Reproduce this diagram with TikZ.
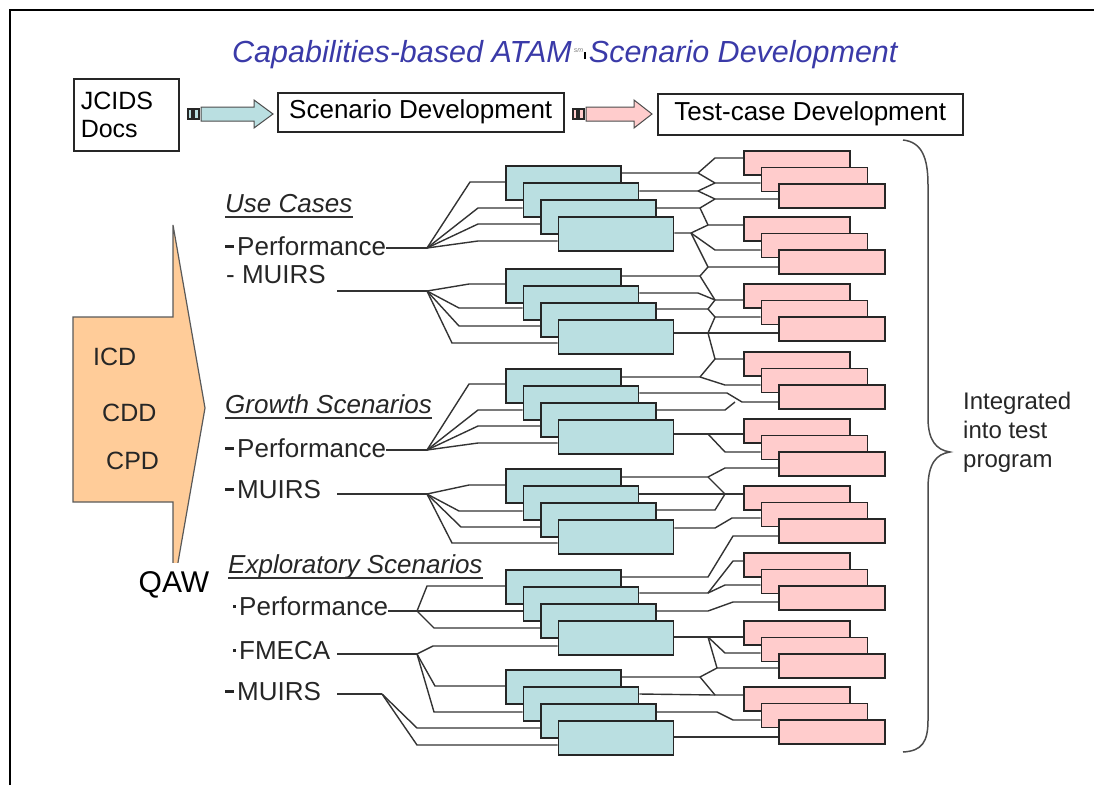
\documentclass[tikz,border=0pt]{standalone}
\usepackage{fontspec}
\setmainfont{Liberation Sans}
\usetikzlibrary{calc}
\pgfdeclarelayer{bg}
\pgfsetlayers{bg,main}
\definecolor{cyanfill}{RGB}{186,223,225}
\definecolor{pinkfill}{RGB}{255,204,204}
\definecolor{peach}{RGB}{255,204,153}
\definecolor{titleblue}{RGB}{58,58,168}
\definecolor{linegray}{RGB}{51,51,51}
\newcommand{\bdash}{\rule[7.5pt]{9pt}{2.6pt}\hspace{3pt}}
\newcommand{\bdot}{\rule[7pt]{3pt}{3pt}\hspace{3pt}}
\tikzset{
  bbox/.style={draw=black!85, line width=1.8pt, fill=cyanfill, minimum width=115pt, minimum height=34pt, inner sep=0pt, anchor=north west},
  pbox/.style={draw=black!85, line width=1.8pt, fill=pinkfill, minimum width=106pt, minimum height=24pt, inner sep=0pt, anchor=north west},
  conn/.style={draw=linegray, line width=1.4pt},
  lbl/.style={inner sep=0pt, anchor=base west, font=\fontsize{26}{30}\selectfont, text=black!85},
  tbox/.style={draw=black!85, line width=1.5pt, inner sep=0pt, anchor=north west, font=\fontsize{26}{30}\selectfont},
  ulin/.style={line width=1.3pt, draw=black!80},
  arrowtxt/.style={inner sep=0pt, anchor=base west, font=\fontsize{25}{28}\selectfont, text=black!85}
}
\begin{document}
\begin{tikzpicture}[x=1pt,y=-1pt]
\useasboundingbox (0,0) rectangle (1094,785);
% frame
\draw[line width=2.5pt] (10,785) -- (10,10) -- (1094,10);
% title
\node[anchor=base west, inner sep=0pt, text=titleblue, font=\fontsize{30.5}{32}\selectfont\itshape] (title) at (232,62)
  {Capabilities-based ATAM\hspace{2pt}\raisebox{10pt}{\fontsize{7}{7}\selectfont\color{gray}sm}\hspace{1pt}{\color{black}\rule[3pt]{1.8pt}{7pt}}\hspace{3pt}Scenario Development};
% top boxes
\node[draw=black!85, line width=1.5pt, anchor=north west, minimum width=105pt, minimum height=72pt, text width=91pt, inner xsep=7pt, inner ysep=0pt, align=left, font=\fontsize{25}{28}\selectfont] (jcids) at (73,78) {JCIDS\\Docs};
\node[tbox, minimum width=286pt, minimum height=39pt] (scen) at (277,92) {Scenario Development};
\node[tbox, minimum width=305pt, minimum height=41pt] (test) at (657,93) {Test-case Development};
% block arrows
\draw[fill=cyanfill, draw=black!85, line width=1.2pt] (188,109) rectangle (192,119);
\draw[fill=cyanfill, draw=black!85, line width=1.2pt] (194,109) rectangle (199,119);
\draw[fill=cyanfill, draw=black!70, line width=1pt] (201,107) -- (254,107) -- (254,100) -- (273,114) -- (254,128) -- (254,121) -- (201,121) -- cycle;
\draw[fill=pinkfill, draw=black!85, line width=1.2pt] (573,109) rectangle (577,119);
\draw[fill=pinkfill, draw=black!85, line width=1.2pt] (579,109) rectangle (584,119);
\draw[fill=pinkfill, draw=black!70, line width=1pt] (586,107) -- (634,107) -- (634,100) -- (652,114) -- (634,128) -- (634,121) -- (586,121) -- cycle;
% orange arrow
\draw[fill=peach, draw=black!65, line width=1.2pt] (73,317) -- (173,317) -- (173,225) -- (205,408) -- (173,591) -- (173,502) -- (73,502) -- cycle;
\node[arrowtxt] (icd) at (93,365) {ICD};
\node[arrowtxt] (cdd) at (102,421) {CDD};
\node[arrowtxt] (cpd) at (106,469) {CPD};
\node[fill=white, inner sep=0pt, minimum width=100pt, minimum height=44pt, font=\fontsize{30}{32}\selectfont] (qaw) at (174,585) {QAW};
% labels
\node[lbl] (lUC) at (225,212) {\itshape Use Cases};
\node[lbl] (lUCp) at (225,255) {\bdash Performance};
\node[lbl] (lUCm) at (226,283) {- MUIRS};
\node[lbl] (lGS) at (225,413) {\itshape Growth Scenarios};
\node[lbl] (lGSp) at (225,457) {\bdash Performance};
\node[lbl] (lGSm) at (225,498) {\bdash MUIRS};
\node[lbl] (lES) at (228,573) {\itshape Exploratory Scenarios};
\node[lbl] (lESp) at (233,615) {\bdot Performance};
\node[lbl] (lESf) at (233,659) {\bdot FMECA};
\node[lbl] (lESm) at (225,700) {\bdash MUIRS};
\draw[ulin] ([yshift=-5pt]lUC.base west) -- ([yshift=-5pt]lUC.base east);
\draw[ulin] ([yshift=-5pt]lGS.base west) -- ([yshift=-5pt]lGS.base east);
\draw[ulin] ([yshift=-5pt]lES.base west) -- ([yshift=-5pt]lES.base east);
% blue stacks
\foreach \k/\T in {1/165,2/268,3/368,4/468,5/569,6/669} {
  \foreach \i in {1,...,4} {
    \node[bbox] (b\k\i) at ({505+17.5*(\i-1)},{\T+17*(\i-1)}) {};
  }
}
% pink stacks
\foreach \j/\S in {1/150,2/216,3/283,4/351,5/418,6/485,7/552,8/620,9/686} {
  \foreach \a in {1,2,3} {
    \node[pbox] (p\j\a) at ({743+17.5*(\a-1)},{\S+16.5*(\a-1)}) {};
  }
}
% brace and text
\draw[line width=1.5pt, draw=black!70] (903,140) .. controls (922,142) and (928,158) .. (928,185) -- (928,418) .. controls (928,440) and (936,450) .. (950,452) .. controls (936,454) and (928,464) .. (928,488) -- (928,720) .. controls (928,742) and (922,751) .. (903,752);
\node[anchor=north west, align=left, inner sep=0pt, font=\fontsize{24}{29}\selectfont, text=black!85] (integ) at (963,392) {Integrated\\into test\\program};
% connectors
\begin{pgfonlayer}{bg}
\coordinate (f1) at (427,248);
\coordinate (m1) at (337,291);
\coordinate (f2) at (427,291);
\coordinate (f3) at (427,450);
\coordinate (m2) at (337,494);
\coordinate (f4) at (427,494);
\coordinate (f5) at (417,611);
\coordinate (m3) at (337,654);
\coordinate (f6) at (417,654);
\coordinate (m4) at (337,694);
\coordinate (f7) at (382,694);
% stack 1
\draw[conn] (lUCp.east |- f1) -- (f1);
\draw[conn] (f1) -- (470,182) -- (b11.west |- 0,182);
\draw[conn] (f1) -- (478,208) -- (b12.west |- 0,208);
\draw[conn] (f1) -- (478,224) -- (b13.west |- 0,224);
\draw[conn] (f1) -- (478,241) -- (b14.west |- 0,241);
% stack 2
\draw[conn] (m1) -- (f2);
\draw[conn] (f2) -- (469,284) -- (b21.west |- 0,284);
\draw[conn] (f2) -- (459,308) -- (b22.west |- 0,308);
\draw[conn] (f2) -- (459,326) -- (b23.west |- 0,326);
\draw[conn] (f2) -- (452,343) -- (b24.west |- 0,343);
% stack 3
\draw[conn] (lGSp.east |- f3) -- (f3);
\draw[conn] (f3) -- (469,384) -- (b31.west |- 0,384);
\draw[conn] (f3) -- (478,410) -- (b32.west |- 0,410);
\draw[conn] (f3) -- (478,426) -- (b33.west |- 0,426);
\draw[conn] (f3) -- (478,443) -- (b34.west |- 0,443);
% stack 4
\draw[conn] (m2) -- (f4);
\draw[conn] (f4) -- (469,485) -- (b41.west |- 0,485);
\draw[conn] (f4) -- (459,511) -- (b42.west |- 0,511);
\draw[conn] (f4) -- (461,527) -- (b43.west |- 0,527);
\draw[conn] (f4) -- (452,543) -- (b44.west |- 0,543);
% stacks 5 and 6
\draw[conn] (lESp.east |- f5) -- (f5);
\draw[conn] (f5) -- (427,586) -- (b51.west |- 0,586);
\draw[conn] (f5) -- (b52.west |- f5);
\draw[conn] (f5) -- (434,628) -- (b53.west |- 0,628);
\draw[conn] (m3) -- (f6);
\draw[conn] (f6) -- (433,646) -- (b54.west |- 0,646);
\draw[conn] (f6) -- (435,686) -- (b61.west |- 0,686);
\draw[conn] (f6) -- (434,712) -- (b62.west |- 0,712);
\draw[conn] (m4) -- (f7);
\draw[conn] (f7) -- (417,728) -- (b63.west |- 0,728);
\draw[conn] (f7) -- (417,745) -- (b64.west |- 0,745);
% right side: stack 1
\draw[conn] (b11.east |- 0,173) -- (698,173) -- (715,158) -- (p11.west |- 0,158);
\draw[conn] (698,173) -- (715,183) -- (p12.west |- 0,183);
\draw[conn] (b12.east |- 0,191) -- (698,191) -- (715,183);
\draw[conn] (698,191) -- (715,199) -- (p13.west |- 0,199);
\draw[conn] (b13.east |- 0,208) -- (700,208) -- (715,199);
\draw[conn] (700,208) -- (708,225) -- (p21.west |- 0,225);
\draw[conn] (b14.east |- 0,233) -- (691,233) -- (708,225);
\draw[conn] (691,233) -- (715,250) -- (p22.west |- 0,250);
\draw[conn] (691,233) -- (708,267) -- (p23.west |- 0,267);
% stack 2
\draw[conn] (b21.east |- 0,276) -- (700,276) -- (708,267);
\draw[conn] (700,276) -- (715,300) -- (p31.west |- 0,300);
\draw[conn] (b22.east |- 0,293) -- (698,293) -- (715,300);
\draw[conn] (b23.east |- 0,309) -- (708,309) -- (715,317) -- (p32.west |- 0,317);
\draw[conn] (708,309) -- (715,300);
\draw[conn] (b24.east |- 0,333) -- (p33.west |- 0,333);
\draw[conn] (708,333) -- (715,317);
\draw[conn] (708,333) -- (715,359) -- (p41.west |- 0,359);
% stack 3
\draw[conn] (b31.east |- 0,377) -- (700,377) -- (715,359);
\draw[conn] (700,377) -- (725,385) -- (p42.west |- 0,385);
\draw[conn] (b32.east |- 0,393) -- (727,393) -- (742,402) -- (p43.west |- 0,402);
\draw[conn] (b33.east |- 0,410) -- (725,410) -- (735,402);
\draw[conn] (b34.east |- 0,434) -- (p51.west |- 0,434);
\draw[conn] (708,434) -- (725,452) -- (p52.west |- 0,452);
% stack 4
\draw[conn] (b41.east |- 0,477) -- (708,477) -- (725,468) -- (p53.west |- 0,468);
\draw[conn] (708,477) -- (725,494);
\draw[conn] (b42.east |- 0,494) -- (p61.west |- 0,494);
\draw[conn] (b43.east |- 0,510) -- (715,510) -- (725,494);
\draw[conn] (b44.east |- 0,528) -- (715,528) -- (732,518) -- (p62.west |- 0,518);
% stack 5
\draw[conn] (b51.east |- 0,577) -- (708,577) -- (733,536) -- (p63.west |- 0,536);
\draw[conn] (b52.east |- 0,593) -- (708,593) -- (733,561) -- (p71.west |- 0,561);
\draw[conn] (708,593) -- (725,585) -- (p72.west |- 0,585);
\draw[conn] (b53.east |- 0,611) -- (708,611) -- (733,602) -- (p73.west |- 0,602);
\draw[conn] (b54.east |- 0,637) -- (p81.west |- 0,637);
\draw[conn] (708,637) -- (725,653) -- (p82.west |- 0,653);
\draw[conn] (708,637) -- (717,668) -- (p83.west |- 0,668);
% stack 6
\draw[conn] (b61.east |- 0,677) -- (700,677) -- (717,668);
\draw[conn] (700,677) -- (715,695) -- (p91.west |- 0,695);
\draw[conn] (b62.east |- 0,694) -- (715,695);
\draw[conn] (b63.east |- 0,712) -- (717,712) -- (733,720) -- (p92.west |- 0,720);
\draw[conn] (b64.east |- 0,737) -- (p93.west |- 0,737);
\end{pgfonlayer}
\end{tikzpicture}
\end{document}
